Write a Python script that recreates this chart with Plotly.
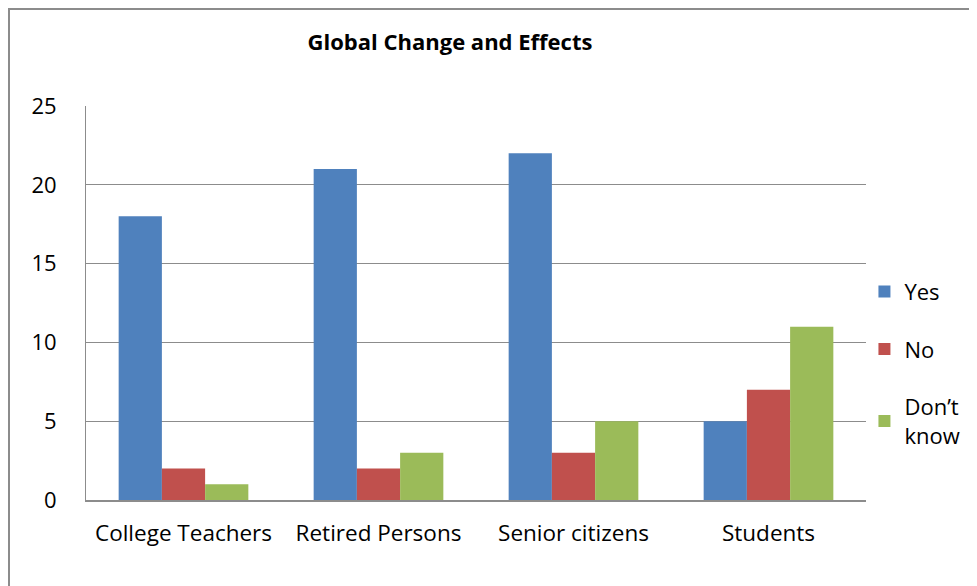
import plotly.graph_objects as go

categories = ["College Teachers", "Retired Persons", "Senior citizens", "Students"]
yes_vals = [18, 21, 22, 5]
no_vals = [2, 2, 3, 7]
dont_know_vals = [1, 3, 5, 11]
series_names = ["Yes", "No", "Don’t<br>know"]
colors = ["#4F81BD", "#C0504D", "#9BBB59"]

fig = go.Figure()
for i, (name, vals) in enumerate(zip(series_names, [yes_vals, no_vals, dont_know_vals])):
    fig.add_trace(go.Bar(x=categories, y=vals, name=name, marker_color=colors[i],
                         marker_line_width=0, legendgroup=str(i)))

# page body has an 8px margin; compensate
OFF = 8
W, H = 977 - OFF, 586 - OFF
font = "Open Sans, sans-serif"
fig.update_layout(
    width=W, height=H,
    margin=dict(l=86 - OFF, r=W - (866 - OFF), t=106 - OFF, b=H - (500 - OFF)),
    paper_bgcolor="white", plot_bgcolor="white",
    barmode="group", bargap=0.335, bargroupgap=0,
    font=dict(family=font, size=22, color="black"),
    title=dict(text="<b>Global Change and Effects</b>", x=(450 - OFF) / W, xanchor="center",
               y=1 - (42 - OFF) / H, yanchor="middle", font=dict(size=22, family=font)),
    legend=dict(x=0.998, y=0.582, xanchor="left", yanchor="top",
                traceorder="grouped", tracegroupgap=26, font=dict(size=22),
                itemwidth=30, bgcolor="rgba(0,0,0,0)"),
    showlegend=True,
)
fig.update_yaxes(range=[0, 25], dtick=5, showgrid=True, gridcolor="#8C8C8C", gridwidth=1,
                 showline=True, linecolor="#8C8C8C", linewidth=1, ticks="",
                 ticklabelstandoff=24, zeroline=False, tickfont=dict(size=22))
fig.update_xaxes(showline=True, linecolor="#8C8C8C", linewidth=2, ticks="",
                 ticklabelstandoff=12, tickfont=dict(size=22.5))
fig.add_shape(type="rect", xref="paper", yref="paper",
              x0=(9 - 86) / 780, x1=1.3, y0=-0.5, y1=1 + (106 - 9) / 394,
              line=dict(color="#8C8C8C", width=2), fillcolor="rgba(0,0,0,0)", layer="below")
fig.write_html("out.html")
